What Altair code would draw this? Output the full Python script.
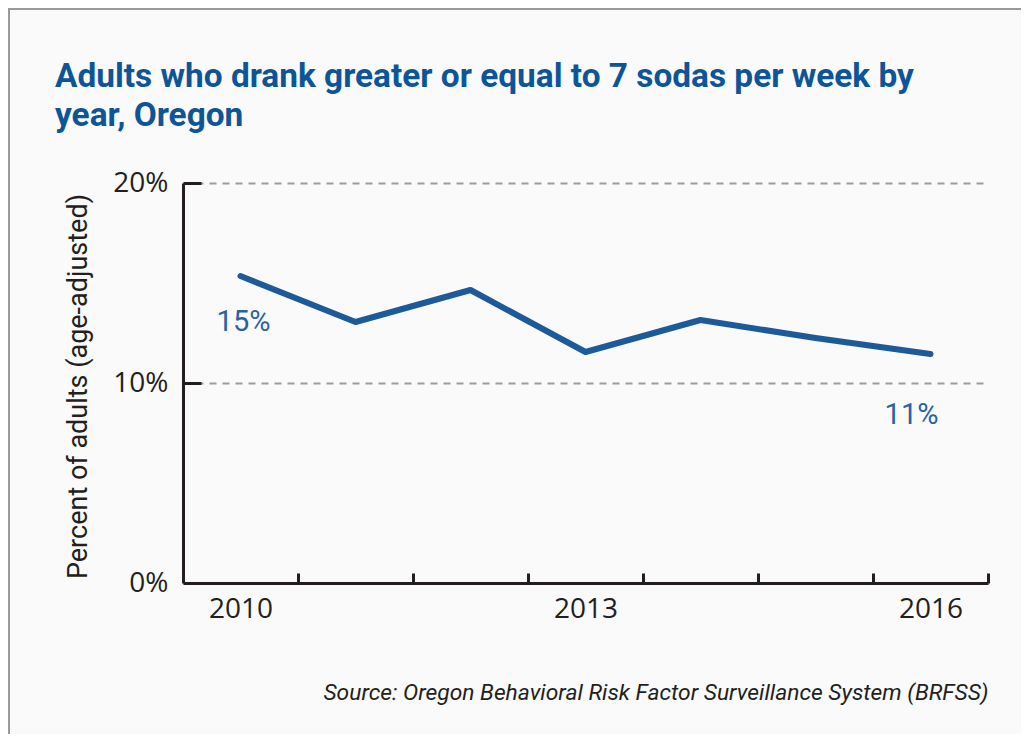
import altair as alt
import pandas as pd

# ---- data ----
years = [2010, 2011, 2012, 2013, 2014, 2015, 2016]
values = [15.35, 13.05, 14.65, 11.55, 13.15, 12.25, 11.45]
y_tick_values = [0, 10, 20]
x_label_years = [2010, 2013, 2016]
x_tick_marks = [2010.5, 2011.5, 2012.5, 2013.5, 2014.5, 2015.5, 2016.5]
y_tick_marks = [10, 20]
label_years = [2010, 2016]
label_texts = ["15%", "11%"]

title_lines = ["Adults who drank greater or equal to 7 sodas per week by", "year, Oregon"]
y_title = "Percent of adults (age-adjusted)"
source = "Source: Oregon Behavioral Risk Factor Surveillance System (BRFSS)"

TITLE_BLUE = "#0d5596"
LINE_BLUE = "#1d5a9a"
LABEL_BLUE = "#2962a2"
INK = "#231f20"
HELV = "Roboto, Liberation Sans, sans-serif"
MYRIAD = "Open Sans, Noto Sans, sans-serif"

df = pd.DataFrame({"year": years, "pct": values})
lab = pd.DataFrame({
    "year": label_years,
    "pct": [values[years.index(y)] for y in label_years],
    "text": label_texts,
})

xscale = alt.Scale(domain=[2009.5, 2016.5], nice=False, zero=False)
yscale = alt.Scale(domain=[0, 20], nice=False, zero=True)

line = alt.Chart(df).mark_line(
    color=LINE_BLUE, strokeWidth=6, strokeCap="round", strokeJoin="round"
).encode(
    x=alt.X("year:Q", scale=xscale, axis=alt.Axis(
        orient="bottom", values=x_label_years, format="d", ticks=False,
        domain=True, domainColor=INK, domainWidth=3, grid=False,
        labelFont=MYRIAD, labelFontSize=28, labelColor=INK, labelPadding=12,
        labelOverlap=False, labelFlush=False,
        title=source, titleFont=HELV, titleFontSize=22.8, titleFontStyle="italic",
        titleFontWeight="normal", titleColor=INK, titleAlign="right",
        titleAnchor="end", titleBaseline="alphabetic", titleX=805, titleY=116,
    )),
    y=alt.Y("pct:Q", scale=yscale, axis=alt.Axis(
        orient="left", values=y_tick_values, ticks=False,
        labelExpr="datum.value + '%'",
        domain=True, domainColor=INK, domainWidth=3,
        grid=True, gridColor="#9c9c9c", gridDash=[7, 6], gridWidth=1.8,
        labelFont=MYRIAD, labelFontSize=28, labelColor=INK, labelPadding=15,
        title=y_title, titleFont=HELV, titleFontSize=27, titleFontWeight="normal",
        titleColor=INK, titleBaseline="alphabetic", titleX=-97, titleY=203,
    )),
)

tick_layer = alt.Chart(df).mark_point(opacity=0).encode(
    x=alt.X("year:Q", scale=xscale, axis=alt.Axis(
        orient="bottom", values=x_tick_marks, labels=False, domain=False,
        grid=False, ticks=True, tickSize=10, tickWidth=3, tickColor=INK,
        offset=-10, title=None,
    )),
    y=alt.Y("pct:Q", scale=yscale, axis=alt.Axis(
        orient="left", values=y_tick_marks, labels=False, domain=False,
        grid=False, ticks=True, tickSize=18, tickWidth=3, tickColor=INK,
        offset=-18, title=None,
    )),
)

def value_label(year, dx, dy):
    return alt.Chart(lab).transform_filter(alt.datum.year == year).mark_text(
        font=HELV, fontSize=29, color=LABEL_BLUE, dx=dx, dy=dy,
        align="center", baseline="middle",
    ).encode(
        x=alt.X("year:Q", scale=xscale, axis=None),
        y=alt.Y("pct:Q", scale=yscale, axis=None),
        text="text:N",
    )

lab_first = value_label(label_years[0], 3, 46)
lab_last = value_label(label_years[1], -19, 61)

frame = pd.DataFrame({"k": [0]})
border_top = alt.Chart(frame).mark_rule(color="#9a9a9a", strokeWidth=2).encode(
    x=alt.value(-175), x2=alt.value(838), y=alt.value(-174))
border_left = alt.Chart(frame).mark_rule(color="#9a9a9a", strokeWidth=2).encode(
    x=alt.value(-174), y=alt.value(-175), y2=alt.value(551))

chart = alt.layer(
    line, tick_layer, lab_first, lab_last, border_top, border_left
).resolve_axis(x="independent", y="independent").properties(
    width=805, height=400,
    autosize=alt.AutoSizeParams(type="none"),
    padding={"left": 175, "top": 175, "right": 33, "bottom": 151},
    background="#fafafa",
    title=alt.TitleParams(
        title_lines, anchor="start", align="left", font=HELV, fontSize=33.4,
        fontWeight="bold", color=TITLE_BLUE, lineHeight=39, dx=48,
        offset=0, dy=126,
    ),
).configure_view(stroke=None)

chart.save("out.html", embed_options={"renderer": "svg", "actions": False})
